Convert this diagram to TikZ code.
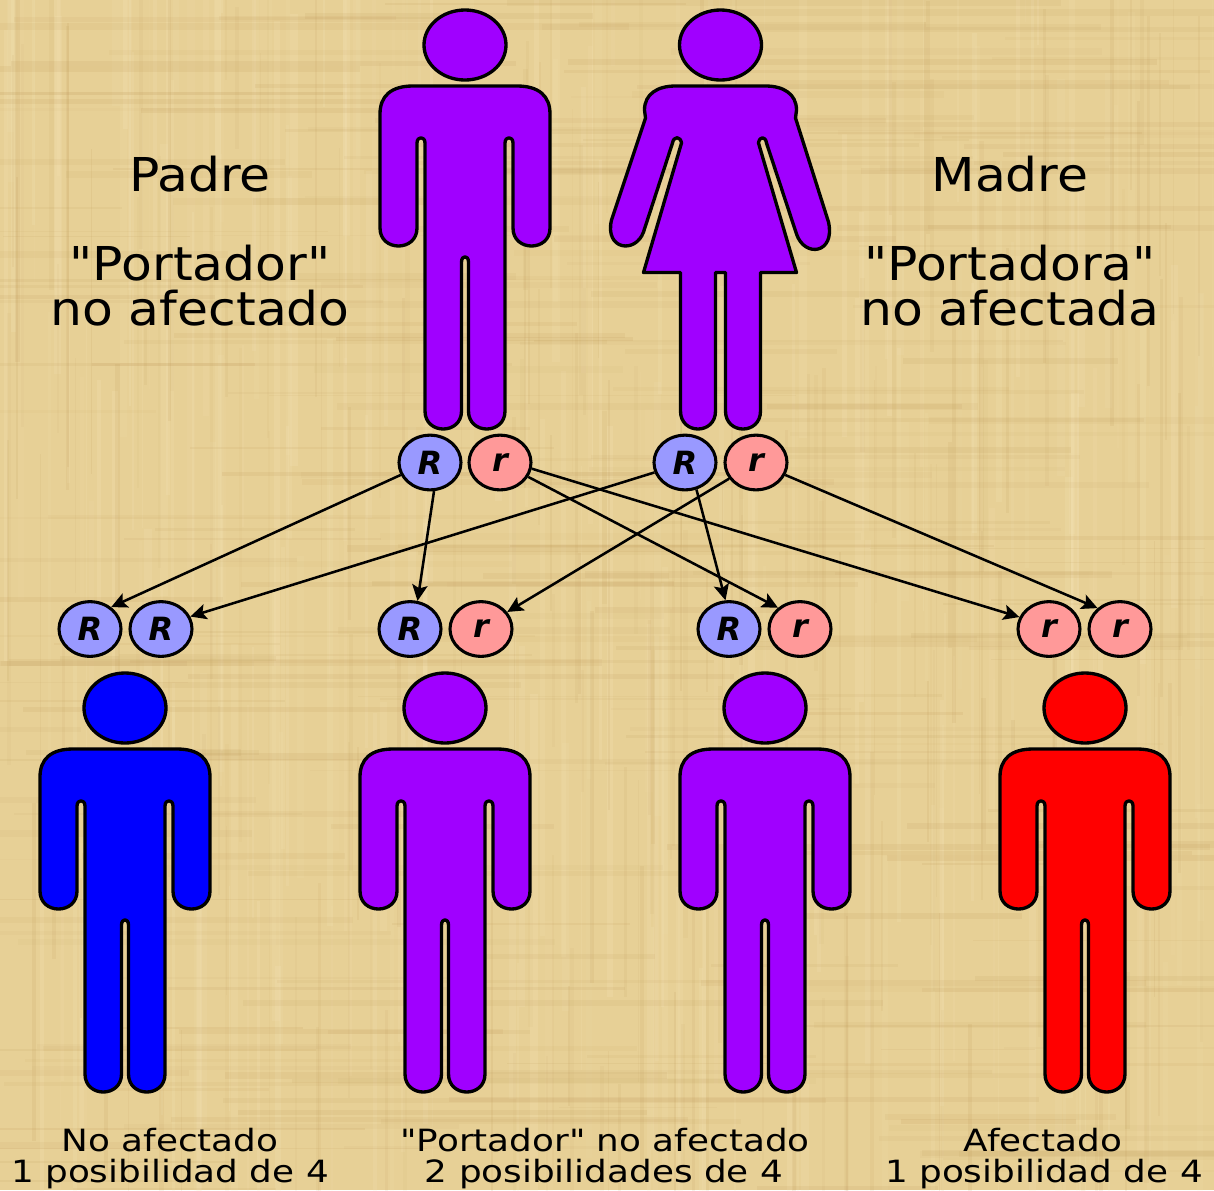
\documentclass[tikz,border=0pt]{standalone}
\usepackage{fontspec}
\newfontfamily\labelbig[FakeStretch=1.08]{DejaVu Sans}
\newfontfamily\labelsmall[FakeStretch=1.167]{DejaVu Sans}
\newfontfamily\labelgene{DejaVu Sans}
\usetikzlibrary{shapes.geometric,arrows.meta}
\definecolor{paper}{RGB}{231,208,150}
\definecolor{paperdark}{RGB}{185,145,80}
\definecolor{paperlight}{RGB}{250,235,195}
\definecolor{violetfig}{RGB}{160,0,255}
\definecolor{allele R}{RGB}{153,153,255}
\definecolor{allele r}{RGB}{255,153,153}
\newcommand{\manfigure}[3]{%
  \begin{scope}[shift={(#1,#2)}]
    \draw[figline,fill=#3] (0,45) ellipse [x radius=41,y radius=35];
    \draw[figline,fill=#3] (-52,86) -- (52,86)
      .. controls (74,86) and (85,96) .. (85,114) -- (85,228)
      .. controls (85,252) and (48,252) .. (48,228) -- (48,143)
      .. controls (48,136) and (40,136) .. (40,143) -- (40,411)
      .. controls (40,435) and (3.5,435) .. (3.5,411) -- (3.5,262)
      .. controls (3.5,255) and (-3.5,255) .. (-3.5,262) -- (-3.5,411)
      .. controls (-3.5,435) and (-40,435) .. (-40,411) -- (-40,143)
      .. controls (-40,136) and (-48,136) .. (-48,143) -- (-48,228)
      .. controls (-48,252) and (-85,252) .. (-85,228) -- (-85,114)
      .. controls (-85,96) and (-74,86) .. (-52,86) -- cycle;
  \end{scope}}
\newcommand{\womanfigure}[3]{%
  \begin{scope}[shift={(#1,#2)}]
    \draw[figline,fill=#3] (0,45) ellipse [x radius=41,y radius=35];
    \draw[figline,fill=#3] (-45,86) -- (45,86)
      .. controls (63,86) and (76,94) .. (76,110) -- (75,118) -- (108,222)
      .. controls (115,254) and (84,258) .. (76,234) -- (46,143)
      .. controls (45,136) and (39,136) .. (38,143) -- (76,272.5) -- (40,272.5) -- (40,411)
      .. controls (40,435) and (5,435) .. (5,411) -- (5,272.5) -- (-5,272.5) -- (-5,411)
      .. controls (-5,435) and (-40,435) .. (-40,411) -- (-40,272.5) -- (-77,272.5)
      -- (-39,143) .. controls (-40,136) and (-47,136) .. (-48,143) -- (-77,232)
      .. controls (-85,254) and (-116,250) .. (-109,220) -- (-75,118) -- (-76,110)
      .. controls (-76,94) and (-63,86) .. (-45,86) -- cycle;
  \end{scope}}
\tikzset{
  figline/.style={draw=black,line width=2.5pt,line join=round},
  gene/.style={ellipse,draw=black,line width=2.3pt,minimum width=46.5pt,minimum height=41pt,inner sep=0pt,
     font=\labelgene\fontsize{24}{24}\selectfont\bfseries\itshape},
  geneR/.style={gene,fill=allele R},
  gener/.style={gene,fill=allele r},
  link/.style={draw=black,line width=1.9pt,-{Stealth[length=12pt,width=11.5pt,inset=2.5pt]}},
  bigtext/.style={anchor=base,font=\labelbig\fontsize{35}{35}\selectfont,inner sep=0pt},
  smalltext/.style={anchor=base,font=\labelsmall\fontsize{23}{23}\selectfont,inner sep=0pt}
}
\begin{document}
\begin{tikzpicture}[x=0.75pt,y=-0.75pt]
\useasboundingbox (0,0) rectangle (1214,1190);
\begin{scope}
\clip (0,0) rectangle (1214,1190);
\fill[paper] (0,0) rectangle (1214,1190);
\pgfmathsetseed{4242}
% woven papyrus texture
\foreach \i in {1,...,260}{
  \pgfmathsetmacro{\px}{1214*rnd}
  \pgfmathsetmacro{\wd}{1+7*rnd}
  \pgfmathsetmacro{\op}{0.05+0.12*rnd}
  \pgfmathsetmacro{\ya}{1190*rnd-200}
  \pgfmathsetmacro{\yb}{\ya+150+500*rnd}
  \fill[paperlight,opacity=\op] (\px,\ya) rectangle (\px+\wd,\yb);
}
\foreach \i in {1,...,260}{
  \pgfmathsetmacro{\py}{1190*rnd}
  \pgfmathsetmacro{\wd}{1+6*rnd}
  \pgfmathsetmacro{\op}{0.04+0.09*rnd}
  \pgfmathsetmacro{\xa}{1214*rnd-200}
  \pgfmathsetmacro{\xb}{\xa+150+500*rnd}
  \fill[paperdark,opacity=\op] (\xa,\py) rectangle (\xb,\py+\wd);
}
\foreach \i in {1,...,200}{
  \pgfmathsetmacro{\px}{1214*rnd}
  \pgfmathsetmacro{\wd}{1+4*rnd}
  \pgfmathsetmacro{\op}{0.04+0.08*rnd}
  \pgfmathsetmacro{\ya}{1190*rnd-100}
  \pgfmathsetmacro{\yb}{\ya+100+400*rnd}
  \fill[paperdark,opacity=\op] (\px,\ya) rectangle (\px+\wd,\yb);
}
\end{scope}

% parents
\manfigure{465}{0}{violetfig}
\womanfigure{720.5}{0}{violetfig}
% children
\manfigure{125}{663}{blue}
\manfigure{445}{663}{violetfig}
\manfigure{765}{663}{violetfig}
\manfigure{1085}{663}{red}

% parents' alleles
\node[geneR] (fR) at (430,462.5) {R};
\node[gener] (fr) at (500,462.5) {r};
\node[geneR] (mR) at (685,462.5) {R};
\node[gener] (mr) at (756,462.5) {r};
% children's alleles
\node[geneR] (aR) at (90,629) {R};
\node[geneR] (bR) at (161,629) {R};
\node[geneR] (cR) at (410,629) {R};
\node[gener] (cr) at (481,629) {r};
\node[geneR] (dR) at (729,629) {R};
\node[gener] (dr) at (800,629) {r};
\node[gener] (er) at (1049,629) {r};
\node[gener] (fr2) at (1120,629) {r};

% connectors
\draw[link] (fR.203) -- (aR.46);
\draw[link] (mR.198) -- (bR.23);
\draw[link] (fR.278) -- (cR.75);
\draw[link] (mr.211) -- (cr.33);
\draw[link] (fr.349) -- (er.158);
\draw[link] (fr.333) -- (dr.136);
\draw[link] (mR.293) -- (dR.97);
\draw[link] (mr.337) -- (fr2.137);

% texts
\node[bigtext] (t1) at (200,191) {Padre};
\node[bigtext] (t2) at (200,280) {"Portador"};
\node[bigtext] (t3) at (200,325) {no afectado};
\node[bigtext] (t4) at (1010,191) {Madre};
\node[bigtext] (t5) at (1010,280) {"Portadora"};
\node[bigtext] (t6) at (1010,325) {no afectada};
\node[smalltext] (b1) at (170,1151) {No afectado};
\node[smalltext] (b2) at (170,1182) {1 posibilidad de 4};
\node[smalltext] (b3) at (605,1151) {"Portador" no afectado};
\node[smalltext] (b4) at (604,1182) {2 posibilidades de 4};
\node[smalltext] (b5) at (1043,1151) {Afectado};
\node[smalltext] (b6) at (1044,1182) {1 posibilidad de 4};
\end{tikzpicture}
\end{document}
